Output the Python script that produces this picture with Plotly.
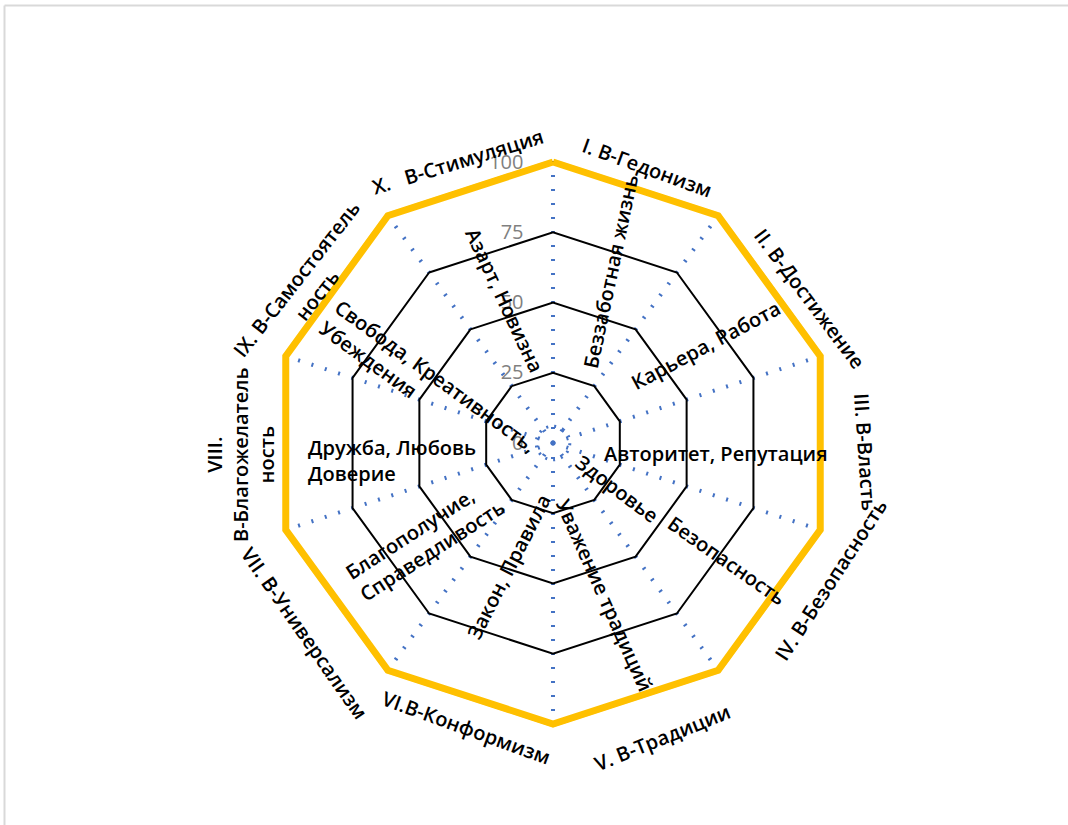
import plotly.graph_objects as go

W, H = 1068, 825

# ---- data ----
spokes = ["s1", "s2", "s3", "s4", "s5", "s6", "s7", "s8", "s9", "s10"]
outer_values = [100, 100, 100, 100, 100, 100, 100, 100, 100, 100]
inner_ring_values = [6, 6, 6, 6, 6, 6, 6, 6, 6, 6]
radial_ticks = [0, 25, 50, 75, 100]

value_labels = [
    "I. В-Гедонизм",
    "II. В-Достижение",
    "III. В-Власть",
    "IV. В-Безопасность",
    "V. В-Традиции",
    "VI.В-Конформизм",
    "VII. В-Универсализм",
    "VIII.<br>В-Благожелатель<br>ность",
    "IX. В-Самостоятель<br>ность",
    "X.   В-Стимуляция",
]
inner_labels = [
    "Беззаботная жизнь",
    "Азарт, Новизна",
    "Карьера, Работа",
    "Авторитет, Репутация",
    "Здоровье",
    "Безопасность",
    "Уважение традиций",
    "Закон, Правила",
    "Благополучие,<br>Справедливость",
    "Дружба, Любовь<br>Доверие",
    "Свобода, Креативность,<br>Убеждения",
]

# ---- label placement (pixel centre x, y, angle, align) ----
value_label_pos = [
    (647, 168, 20, "center"),
    (810, 298, 53, "center"),
    (866, 452, 86, "center"),
    (830, 580, -57, "center"),
    (662, 737, -22, "center"),
    (466, 727, 20, "center"),
    (305, 633, 55, "center"),
    (240, 455, -90, "center"),
    (306, 287, -52, "center"),
    (458, 162, -17, "center"),
]
inner_label_pos = [
    (610, 272, -78, "left"),
    (505, 300, 65, "left"),
    (705, 345, -28, "left"),
    (716, 453, 0, "left"),
    (617, 488, 37, "left"),
    (727, 560, 35, "left"),
    (605, 595, 66, "left"),
    (508, 567, -63, "left"),
    (425, 539, -33, "left"),
    (392, 460, 0, "left"),
    (428, 386, 36, "left"),
]

RMAX = 101.5
CX, CY = 553, 443
R = 281 * RMAX / 100  # pixel radius of the polar domain so that 100 lands at 281 px

fig = go.Figure()
fig.add_trace(go.Scatterpolar(
    r=inner_ring_values + inner_ring_values[:1], theta=spokes + spokes[:1],
    mode="lines", line=dict(color="#4472C4", width=3, dash="2px,6px", shape="spline"),
    hoverinfo="skip", showlegend=False,
))
fig.add_trace(go.Scatterpolar(
    r=outer_values + outer_values[:1], theta=spokes + spokes[:1],
    mode="lines", line=dict(color="#FFC000", width=7),
    showlegend=False,
))

FONT = "Open Sans"
FS = 20
annotations = []
for text, (px, py, ang, al) in zip(value_labels, value_label_pos):
    annotations.append(dict(
        text=text, x=px / W, y=1 - py / H, xref="paper", yref="paper",
        showarrow=False, textangle=ang, align=al, xanchor="center", yanchor="middle",
        font=dict(family=FONT, size=FS, color="#000000", weight=600),
    ))
for text, (px, py, ang, al) in zip(inner_labels, inner_label_pos):
    annotations.append(dict(
        text=text, x=px / W, y=1 - py / H, xref="paper", yref="paper",
        showarrow=False, textangle=ang, align=al, xanchor="center", yanchor="middle",
        font=dict(family=FONT, size=FS, color="#000000", weight=600),
    ))

fig.update_layout(
    width=W, height=H,
    margin=dict(l=0, r=0, t=0, b=0),
    paper_bgcolor="white", plot_bgcolor="white",
    showlegend=False,
    polar=dict(
        domain=dict(x=[(CX - R) / W, (CX + R) / W], y=[(H - CY - R) / H, (H - CY + R) / H]),
        gridshape="linear",
        bgcolor="white",
        radialaxis=dict(
            range=[0, RMAX], tickvals=radial_ticks, ticktext=[str(v) for v in radial_ticks],
            showline=False, ticks="outside", ticklen=22, tickcolor="rgba(0,0,0,0)",
            angle=90, side="counterclockwise", tickangle=90, layer="below traces",
            gridcolor="#000000", gridwidth=2,
            tickfont=dict(family=FONT, size=20, color="#808080"),
        ),
        angularaxis=dict(
            rotation=90, direction="clockwise", layer="below traces",
            showticklabels=False, ticks="", showline=False,
            gridcolor="#4472C4", gridwidth=3.5, griddash="2px,12px",
        ),
    ),
    annotations=annotations,
    shapes=[
        dict(type="line", xref="paper", yref="paper", x0=4.5 / W, x1=1.01, y0=1 - 5.5 / H, y1=1 - 5.5 / H,
             line=dict(color="#D9D9D9", width=2)),
        dict(type="line", xref="paper", yref="paper", x0=4.5 / W, x1=4.5 / W, y0=1 - 5.5 / H, y1=-0.01,
             line=dict(color="#D9D9D9", width=2)),
    ],
)

fig.write_html("out.html", config={"displayModeBar": False},
               post_script="document.body.style.margin='0px';")
